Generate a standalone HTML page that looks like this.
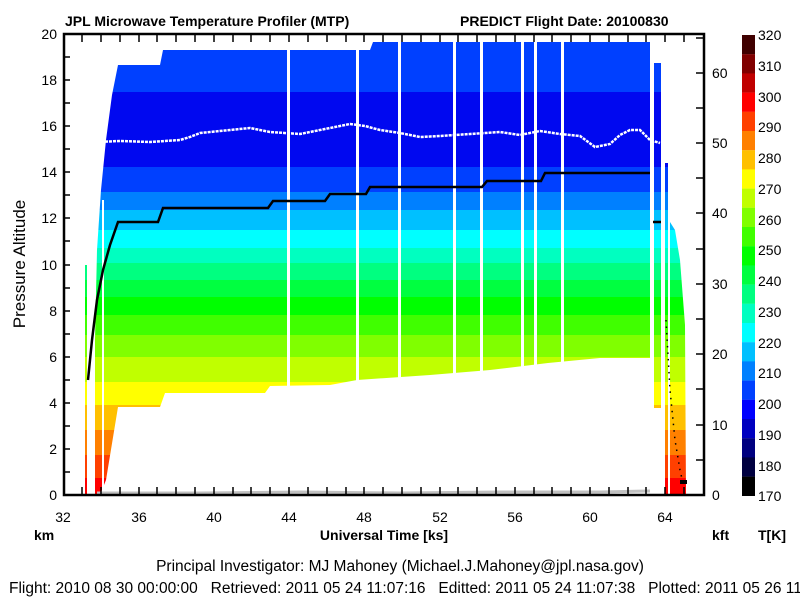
<!DOCTYPE html>
<html><head><meta charset="utf-8"><style>
html,body{margin:0;padding:0;background:#fff;}
svg{display:block;font-family:"Liberation Sans",sans-serif;}
</style></head><body>
<svg width="800" height="600" viewBox="0 0 800 600" xmlns="http://www.w3.org/2000/svg">
<defs>
<clipPath id="c">
<path d="M95,495 L95,340 L97,250 L101,190 L106,140 L112,95 L118,65 L160,65 L163,50 L370,50 L373,42 L650,42 L650,358 L600,358 L548,363 L490,370 L430,375 L357,380 L330,385 L270,386 L265,393 L165,393 L160,407 L118,407 L106,480 L100,495 Z
M654,63 L661,63 L661,408 L654,408 Z
M665,163 L668,163 L668,495 L665,495 Z
M670,222 L675,230 L680,260 L685,325 L686,495 L670,495 Z
M85,265 L87,265 L87,495 L85,495 Z"/>
</clipPath>
</defs>
<g clip-path="url(#c)">
<rect x="60" y="34" width="650" height="58" fill="#0040ff"/>
<rect x="60" y="92" width="650" height="75" fill="#0008f0"/>
<rect x="60" y="167" width="650" height="25" fill="#0040ff"/>
<rect x="60" y="192" width="650" height="18" fill="#0080ff"/>
<rect x="60" y="210" width="650" height="20" fill="#00c0ff"/>
<rect x="60" y="230" width="650" height="18" fill="#00ffff"/>
<rect x="60" y="248" width="650" height="15" fill="#00ffc0"/>
<rect x="60" y="263" width="650" height="17" fill="#00ff80"/>
<rect x="60" y="280" width="650" height="17" fill="#00ff40"/>
<rect x="60" y="297" width="650" height="18" fill="#00ff00"/>
<rect x="60" y="315" width="650" height="20" fill="#40ff00"/>
<rect x="60" y="335" width="650" height="22" fill="#80ff00"/>
<rect x="60" y="357" width="650" height="25" fill="#c0ff00"/>
<rect x="60" y="382" width="650" height="23" fill="#ffff00"/>
<rect x="60" y="405" width="650" height="25" fill="#ffc000"/>
<rect x="60" y="430" width="650" height="25" fill="#ff8000"/>
<rect x="60" y="455" width="650" height="23" fill="#ff4000"/>
<rect x="60" y="478" width="650" height="18" fill="#ff0000"/>
</g>
<g fill="#fff">
<rect x="102" y="200" width="2" height="295"/>
<rect x="287" y="34" width="3" height="360"/>
<rect x="356" y="34" width="3" height="350"/>
<rect x="398" y="34" width="3" height="350"/>
<rect x="453" y="34" width="3" height="345"/>
<rect x="480" y="34" width="3" height="345"/>
<rect x="521" y="34" width="3" height="345"/>
<rect x="534" y="34" width="3" height="345"/>
<rect x="561" y="34" width="3" height="345"/>
</g>
<polyline fill="none" stroke="#fff" stroke-width="2.5" stroke-dasharray="3 1" points="97,142 120,141 150,142 180,140 190,137 200,133 230,130 250,128 270,132 300,134 330,128 350,124 365,126 380,130 400,133 420,137 440,136 470,134 500,132 520,135 540,131 560,134 580,136 595,147 610,144 620,135 630,130 640,130 650,140 660,143"/>
<polyline fill="none" stroke="#c0c0c0" stroke-width="3" points="97,493 200,493 300,492 400,493 500,492 600,492 650,491"/>
<polyline fill="none" stroke="#000" stroke-width="2.5" points="88,380 92,340 97,300 103,270 110,245 118,222 158,222 163,208 268,208 273,201 325,201 330,194 366,194 370,187 482,187 487,181 541,181 545,173 650,173"/>
<line x1="653" y1="222" x2="661" y2="222" stroke="#000" stroke-width="2.5"/>
<polyline fill="none" stroke="#000" stroke-width="1.5" stroke-dasharray="1.5 5" points="666,320 670,390 675,440 680,470 684,488"/>
<rect x="680" y="480" width="7" height="4" fill="#000"/>
<rect x="64" y="34" width="640" height="461" fill="none" stroke="#000" stroke-width="2.5"/>
<g stroke="#000" stroke-width="1.5">
<path d="M64,495h6M64,472h6M64,449h6M64,426h6M64,403h6M64,380h6M64,357h6M64,334h6M64,311h6M64,288h6M64,265h6M64,241h6M64,218h6M64,195h6M64,172h6M64,149h6M64,126h6M64,103h6M64,80h6M64,57h6M64,34h6"/>
<path d="M704,495h-8M704,460h-8M704,425h-8M704,389h-8M704,354h-8M704,319h-8M704,284h-8M704,249h-8M704,213h-8M704,178h-8M704,143h-8M704,108h-8M704,73h-8M704,38h-8"/>
<path d="M82,495v-8M101,495v-8M120,495v-8M139,495v-8M157,495v-8M176,495v-8M195,495v-8M214,495v-8M233,495v-8M251,495v-8M270,495v-8M289,495v-8M308,495v-8M327,495v-8M346,495v-8M364,495v-8M383,495v-8M402,495v-8M421,495v-8M440,495v-8M458,495v-8M477,495v-8M496,495v-8M515,495v-8M534,495v-8M552,495v-8M571,495v-8M590,495v-8M609,495v-8M628,495v-8M646,495v-8M665,495v-8M684,495v-8"/>
<path d="M82,34v8M101,34v8M120,34v8M139,34v8M157,34v8M176,34v8M195,34v8M214,34v8M233,34v8M251,34v8M270,34v8M289,34v8M308,34v8M327,34v8M346,34v8M364,34v8M383,34v8M402,34v8M421,34v8M440,34v8M458,34v8M477,34v8M496,34v8M515,34v8M534,34v8M552,34v8M571,34v8M590,34v8M609,34v8M628,34v8M646,34v8M665,34v8M684,34v8"/>
</g>
<g font-size="14" text-anchor="end" fill="#000">
<text x="57" y="500">0</text><text x="57" y="454">2</text><text x="57" y="408">4</text><text x="57" y="362">6</text><text x="57" y="316">8</text><text x="57" y="270">10</text><text x="57" y="223">12</text><text x="57" y="177">14</text><text x="57" y="131">16</text><text x="57" y="85">18</text><text x="57" y="39">20</text>
</g>
<g font-size="14" fill="#000">
<text x="712" y="500">0</text><text x="712" y="430">10</text><text x="712" y="359">20</text><text x="712" y="289">30</text><text x="712" y="218">40</text><text x="712" y="148">50</text><text x="712" y="78">60</text>
</g>
<g font-size="14" text-anchor="middle" fill="#000">
<text x="63" y="522">32</text><text x="139" y="522">36</text><text x="214" y="522">40</text><text x="289" y="522">44</text><text x="364" y="522">48</text><text x="440" y="522">52</text><text x="515" y="522">56</text><text x="590" y="522">60</text><text x="665" y="522">64</text>
</g>
<g font-size="14" font-weight="bold" fill="#000">
<text x="34" y="540">km</text>
<text x="384" y="540" text-anchor="middle">Universal Time [ks]</text>
<text x="712" y="540">kft</text>
<text x="758" y="540">T[K]</text>
<text x="65" y="26">JPL Microwave Temperature Profiler (MTP)</text>
<text x="460" y="26">PREDICT  Flight Date: 20100830</text>
</g>
<text x="25" y="264" font-size="17" text-anchor="middle" transform="rotate(-90 25 264)">Pressure Altitude</text>
<g font-size="15.5" fill="#000">
<text x="400" y="571" text-anchor="middle">Principal Investigator: MJ Mahoney (Michael.J.Mahoney@jpl.nasa.gov)</text>
<text x="9" y="593" xml:space="preserve">Flight: 2010 08 30 00:00:00   Retrieved: 2011 05 24 11:07:16   Editted: 2011 05 24 11:07:38   Plotted: 2011 05 26 11:11:11</text>
</g>
<g>
<rect x="742" y="35" width="13" height="19.3" fill="#400000"/>
<rect x="742" y="54.2" width="13" height="19.3" fill="#800000"/>
<rect x="742" y="73.4" width="13" height="19.3" fill="#c00000"/>
<rect x="742" y="92.6" width="13" height="19.3" fill="#ff0000"/>
<rect x="742" y="111.8" width="13" height="19.3" fill="#ff4000"/>
<rect x="742" y="131" width="13" height="19.3" fill="#ff8000"/>
<rect x="742" y="150.2" width="13" height="19.3" fill="#ffc000"/>
<rect x="742" y="169.4" width="13" height="19.3" fill="#ffff00"/>
<rect x="742" y="188.6" width="13" height="19.3" fill="#c0ff00"/>
<rect x="742" y="207.8" width="13" height="19.3" fill="#80ff00"/>
<rect x="742" y="227" width="13" height="19.3" fill="#40ff00"/>
<rect x="742" y="246.2" width="13" height="19.3" fill="#00ff00"/>
<rect x="742" y="265.4" width="13" height="19.3" fill="#00ff40"/>
<rect x="742" y="284.6" width="13" height="19.3" fill="#00ff80"/>
<rect x="742" y="303.8" width="13" height="19.3" fill="#00ffc0"/>
<rect x="742" y="323" width="13" height="19.3" fill="#00ffff"/>
<rect x="742" y="342.2" width="13" height="19.3" fill="#00c0ff"/>
<rect x="742" y="361.4" width="13" height="19.3" fill="#0080ff"/>
<rect x="742" y="380.6" width="13" height="19.3" fill="#0040ff"/>
<rect x="742" y="399.8" width="13" height="19.3" fill="#0000ff"/>
<rect x="742" y="419" width="13" height="19.3" fill="#0000c0"/>
<rect x="742" y="438.2" width="13" height="19.3" fill="#000080"/>
<rect x="742" y="457.4" width="13" height="19.3" fill="#000040"/>
<rect x="742" y="476.6" width="13" height="19.4" fill="#000000"/>
</g>
<g font-size="14" fill="#000">
<text x="758" y="40">320</text><text x="758" y="71">310</text><text x="758" y="102">300</text><text x="758" y="132">290</text><text x="758" y="163">280</text><text x="758" y="194">270</text><text x="758" y="225">260</text><text x="758" y="255">250</text><text x="758" y="286">240</text><text x="758" y="317">230</text><text x="758" y="348">220</text><text x="758" y="378">210</text><text x="758" y="409">200</text><text x="758" y="440">190</text><text x="758" y="471">180</text><text x="758" y="501">170</text>
</g>
</svg>
</body></html>
